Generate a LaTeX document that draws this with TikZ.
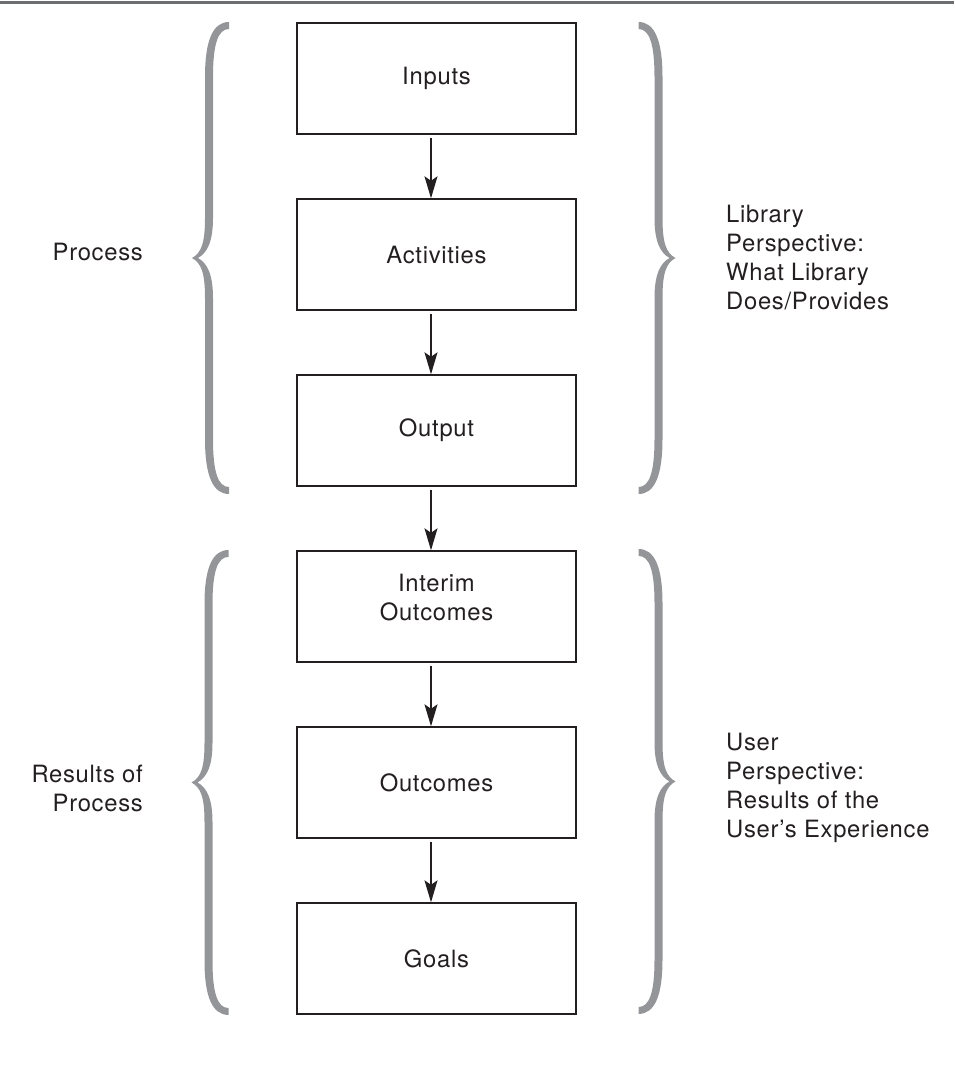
\documentclass[tikz,border=0pt]{standalone}
\usepackage{fontspec}
\setmainfont{TeX Gyre Heros}[LetterSpace=3]
\usetikzlibrary{arrows.meta}
\definecolor{ink}{HTML}{231F20}
\definecolor{curl}{HTML}{939598}
\definecolor{rulegray}{HTML}{6D6E71}
\tikzset{
  stagebox/.style={draw=ink, line width=1.4pt, minimum width=279pt,
    minimum height=111pt, inner sep=0pt, align=center, text=ink,
    font=\fontsize{23.8}{29}\selectfont},
  flow/.style={draw=ink, line width=1.3pt,
    -{Stealth[length=22pt,width=13pt,inset=4.5pt]}},
  sidetext/.style={text=ink, inner sep=0pt, font=\fontsize{23.8}{29}\selectfont},
  % a tall curly bracket opening to the right, origin at the top of its stem
  pics/curl/.style={code={
    \fill[curl] (20,0) .. controls (4,0) and (-4,18) .. (-4,55)
      -- (-4,196) .. controls (-4,222) and (-8,231) .. (-17,236)
      .. controls (-8,241) and (-4,250) .. (-4,276)
      -- (-4,417) .. controls (-4,454) and (4,472) .. (20,472)
      -- (20,465) .. controls (9,465) and (4,450) .. (4,417)
      -- (4,276) .. controls (4,252) and (-2,241) .. (-11,236)
      .. controls (-2,231) and (4,220) .. (4,196)
      -- (4,55) .. controls (4,22) and (9,7) .. (20,7) -- cycle;
  }}
}
\begin{document}
\begin{tikzpicture}[x=1pt,y=-1pt]
\useasboundingbox (0,0) rectangle (954,1066);
% head rule
\draw[rulegray, line width=3pt] (0,2.5) -- (954,2.5);

% the chain of stages
\node[stagebox] (inputs)     at (436.5,78.5)  {Inputs};
\node[stagebox] (activities) at (436.5,254.5) {Activities};
\node[stagebox] (output)     at (436.5,430.5) {Output};
\node[stagebox] (interim)    at (436.5,606.5) {Interim\\Outcomes\rule[-18pt]{0pt}{18pt}};
\node[stagebox] (outcomes)   at (436.5,782.5) {Outcomes};
\node[stagebox] (goals)      at (436.5,958.5) {Goals};

\draw[flow] ([xshift=-5.5pt,yshift=-3pt]inputs.south)     -- ([xshift=-5.5pt]activities.north);
\draw[flow] ([xshift=-5.5pt,yshift=-3pt]activities.south) -- ([xshift=-5.5pt]output.north);
\draw[flow] ([xshift=-5.5pt,yshift=-3pt]output.south)     -- ([xshift=-5.5pt]interim.north);
\draw[flow] ([xshift=-5.5pt,yshift=-3pt]interim.south)    -- ([xshift=-5.5pt]outcomes.north);
\draw[flow] ([xshift=-5.5pt,yshift=-3pt]outcomes.south)   -- ([xshift=-5.5pt]goals.north);

% brackets
\pic at (209,22) {curl};
\pic[xscale=-1] at (658.5,22) {curl};
\pic[yscale=0.985] at (208.5,550) {curl};
\pic[xscale=-1,yscale=0.985] at (658.5,549) {curl};

% side captions
\node[sidetext, anchor=base east] (process) at (143,260.7) {Process};
\node[sidetext, anchor=base east] (results) at (143,782)
  {\begin{tabular}[t]{@{}r@{}}Results of\\Process\end{tabular}};
\node[sidetext, anchor=base west] (libview) at (726,222)
  {\begin{tabular}[t]{@{}l@{}}Library\\Perspective:\\What Library\\Does/Provides\end{tabular}};
\node[sidetext, anchor=base west] (userview) at (726,750.7)
  {\begin{tabular}[t]{@{}l@{}}User\\Perspective:\\Results of the\\User’s Experience\end{tabular}};
\end{tikzpicture}
\end{document}
